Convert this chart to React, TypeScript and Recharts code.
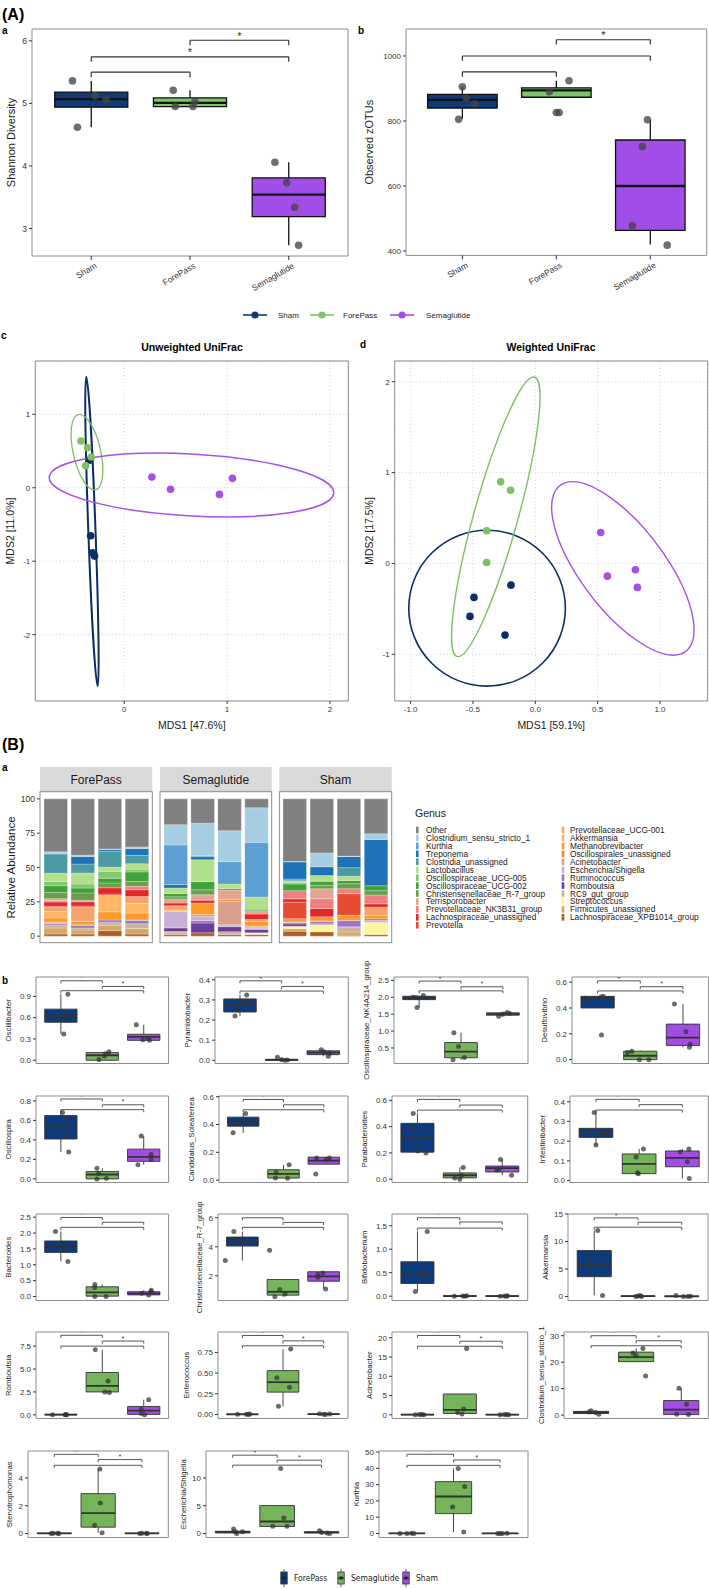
import React from 'react';
import {
  Bar,
  BarChart,
  CartesianGrid,
  ComposedChart,
  ReferenceArea,
  ReferenceLine,
  Scatter,
  XAxis,
  YAxis,
} from 'recharts';

const FONT = '"Liberation Sans", Arial, Helvetica, sans-serif';
const NARROW = '"Liberation Sans Narrow", "DejaVu Sans Condensed", "Liberation Sans", sans-serif';
const INK = '#333333';
const BORDER = '#8c8c8c';

// ---------- (A) a, b: alpha diversity ----------
const alphaGroups = ['Sham', 'ForePass', 'Semaglutide'];
const alphaColors = ['#0e3a78', '#7fc46a', '#a14ee8'];

// [lower whisker, q1, median, q3, upper whisker]
const shannonBox = [
  [4.62, 4.94, 5.07, 5.18, 5.36],
  [4.95, 4.95, 5.01, 5.09, 5.21],
  [2.73, 3.19, 3.54, 3.81, 4.06],
];
const shannonPoints = [
  [5.36, 4.62, 5.12, 5.06],
  [5.21, 4.95, 4.95, 5.03],
  [4.06, 3.73, 3.34, 2.73],
];
const shannonJitter = [
  [-0.19, -0.14, 0.04, 0.15],
  [-0.17, -0.15, 0.03, 0.05],
  [-0.14, -0.02, 0.06, 0.1],
];
// [from group, to group, height, significant]
const shannonBrackets = [
  [1, 2, 5.5, 0],
  [1, 3, 5.745, 1],
  [2, 3, 6.01, 1],
];

const zotuBox = [
  [807, 840, 865, 882, 905],
  [873, 873, 894, 902, 924],
  [420, 463.5, 600, 741.5, 804],
];
const zotuPoints = [
  [905, 805, 870, 853],
  [826, 826, 890, 924],
  [804, 721, 478, 418],
];
const zotuJitter = [
  [0, -0.04, 0.04, 0.13],
  [0, 0.03, -0.075, 0.135],
  [-0.03, -0.085, -0.19, 0.18],
];
const zotuBrackets = [
  [1, 2, 951, 0],
  [1, 3, 1000, 0],
  [2, 3, 1050, 1],
];

// ---------- (A) c, d: UniFrac ordination ----------
const ordColors = ['#0b2e66', '#7dbf63', '#a650e8'];
// per group: Sham, ForePass, Semaglutide; [MDS1, MDS2]
const unweightedPts = [
  [[-0.333, 0.377], [-0.326, -0.654], [-0.307, -0.885], [-0.288, -0.93]],
  [[-0.42, 0.636], [-0.355, 0.545], [-0.32, 0.42], [-0.375, 0.3]],
  [[0.269, 0.146], [0.45, -0.02], [0.926, -0.09], [1.052, 0.128]],
];
// [centre x, centre y, semi-major, semi-minor, angle in degrees]
const unweightedEllipses = [
  [-0.3135, -0.595, 2.106, 0.035, 91.5],
  [-0.362, 0.485, 0.52, 0.135, 98.6],
  [0.654, 0.037, 1.387, 0.42, -4.7],
];
const weightedPts = [
  [[-0.492, -0.374], [-0.524, -0.583], [-0.195, -0.239], [-0.243, -0.789]],
  [[-0.278, 0.898], [-0.198, 0.806], [-0.39, 0.359], [-0.39, 0.011]],
  [[0.525, 0.341], [0.578, -0.14], [0.803, -0.07], [0.819, -0.264]],
];
const weightedEllipses = [
  [-0.387, -0.492, 0.628, 0.858, 0],
  [-0.317, 0.513, 1.569, 0.18, 78.7],
  [0.7025, -0.055, 1.05, 0.366, -63.5],
];

// ---------- (B) a: genus composition ----------
const facets = ['ForePass', 'Semaglutide', 'Sham'];
const samples = ['FP1', 'FP2', 'FP3', 'FP4', 'SE1', 'SE2', 'SE3', 'SE4', 'SH1', 'SH2', 'SH3', 'SH4'];
const genusNames = [
  'Other', 'Clostridium_sensu_stricto_1', 'Kurthia', 'Treponema', 'Clostridia_unassigned',
  'Lactobacillus', 'Oscillospiraceae_UCG-005', 'Oscillospiraceae_UCG-002',
  'Christensenellaceae_R-7_group', 'Terrisporobacter', 'Prevotellaceae_NK3B31_group',
  'Lachnospiraceae_unassigned', 'Prevotella', 'Prevotellaceae_UCG-001', 'Akkermansia',
  'Methanobrevibacter', 'Oscillospirales_unassigned', 'Acinetobacter', 'Escherichia/Shigella',
  'Ruminococcus', 'Romboutsia', 'RC9_gut_group', 'Streptococcus', 'Firmicutes_unassigned',
  'Lachnospiraceae_XPB1014_group',
];
const genusColors = [
  '#808080', '#a6cee3', '#5b9fd3', '#1f72b8', '#4c9aa3', '#b2df8a', '#86c76b', '#3fa33a',
  '#6e9b4c', '#e2a592', '#f08080', '#e3262a', '#e84a33', '#f6a26b', '#fdb766', '#fd9a2c',
  '#ef8a2c', '#dba08c', '#c9b1d6', '#9c76c2', '#6a3d9a', '#c9b39f', '#fff59b', '#d7a865',
  '#b15928',
];
// relative abundance (%) per genus, samples in the order above
const abundance = [
  [38.6, 41, 36.5, 35, 18.8, 17.7, 23.2, 6.45, 45.65, 39.4, 41.7, 25.5],
  [1.6, 1.0, 0.3, 1.2, 14.8, 23.5, 22.5, 25.2, 0.3, 10.1, 0.2, 4.1],
  [0, 0, 0, 0, 28.8, 0.9, 16.3, 39.8, 0, 0, 0, 0],
  [0, 5.5, 1.5, 5, 2.5, 2.2, 0, 0, 12.5, 6.3, 8.2, 33.7],
  [14, 6.5, 11.5, 6, 0, 0, 0, 0, 1.2, 0, 6.3, 0],
  [6, 8, 3, 4, 4, 16, 3.4, 9, 1.2, 4.3, 3.1, 0],
  [3, 3, 5, 2, 0, 0, 0, 0, 1.2, 0, 0, 0],
  [5, 3.5, 3.5, 7, 2.5, 6, 1, 1, 4.8, 3, 2.4, 3.6],
  [4.5, 5.5, 3.5, 3.5, 1.5, 3.5, 0, 0, 0, 2.4, 3.6, 3.1],
  [1.5, 0, 0, 0, 3, 4, 7, 2.5, 0, 7.2, 0, 0],
  [1, 1, 0, 2.5, 0, 0, 0, 0, 6, 7.2, 3.6, 6.5],
  [3, 3, 4.5, 5, 2, 2, 0, 4, 2.4, 6, 0, 2.4],
  [1, 0.7, 1, 0, 0, 0, 0, 0, 12, 0, 15.7, 0],
  [2.7, 10.3, 0, 5.1, 3, 0, 0, 1.2, 0, 0, 0, 6],
  [4.8, 0.2, 12, 6.9, 0, 0, 0, 0, 0, 0, 0, 0],
  [3, 2.5, 6, 5, 0.7, 8.5, 0, 3.6, 2.4, 3.1, 3.6, 2.4],
  [0.5, 0, 0, 0, 0, 0, 1.2, 0, 0, 0, 0, 0],
  [0, 0, 0, 0, 0.2, 1.5, 17.2, 0.6, 0, 0, 0, 0],
  [0.8, 0.3, 0, 0.3, 11.8, 2.8, 1.3, 1.3, 0.5, 0.2, 0.1, 0],
  [1, 2, 1.7, 2.5, 0.5, 1.9, 0, 0.5, 1, 1.8, 4.65, 1.4],
  [0, 0, 0, 0, 2.5, 7.1, 3.7, 2.45, 1.65, 0.6, 0.15, 0],
  [2, 1.5, 2, 3.5, 1, 0, 2, 0, 0, 0, 3.6, 1.4],
  [0, 0, 0, 0, 0, 0, 0, 1.2, 1.8, 5.3, 0, 8.7],
  [4.5, 3, 4, 4, 1.2, 0, 0, 0, 1.8, 0, 2.4, 0],
  [1.5, 1.5, 4, 1.5, 1.2, 2.4, 1.2, 1.2, 3.6, 3.1, 0.7, 1.2],
];

// ---------- (B) b: differentially abundant genera ----------
const genusGroups = ['ForePass', 'Semaglutide', 'Sham'];
const genusGroupColors = ['#0d3a7c', '#75b45a', '#a34de6'];

const genusPanels = [
  { genus: 'Oscillibacter', domain: [-0.046, 1.173], ticks: [0, 0.3, 0.6, 0.9], digits: 1,
    box: [[0.37, 0.535, 0.62, 0.72, 0.93], [0, 0, 0.07, 0.108, 0.12], [0.28, 0.28, 0.33, 0.366, 0.5]],
    pts: [[0.93, 0.64, 0.6, 0.37], [0.01, 0.06, 0.09, 0.12], [0.5, 0.29, 0.28, 0.31]],
    jit: [[0.17, 0.1, 0.05, 0.07], [-0.08, 0.05, 0.08, 0.16], [-0.18, -0.02, 0.14, 0.1]],
    brk: [1.12, 1.04, 0.98], star: [1, 1] },
  { genus: 'Pyramidobacter', domain: [-0.016, 0.414], ticks: [0, 0.1, 0.2, 0.3, 0.4], digits: 1,
    box: [[0.22, 0.24, 0.275, 0.305, 0.325], [0, 0, 0.002, 0.005, 0.015], [0.02, 0.028, 0.038, 0.047, 0.052]],
    pts: [[0.325, 0.295, 0.25, 0.22], [0.015, 0.003, 0, 0.001], [0.052, 0.042, 0.02, 0.035]],
    jit: [[0.16, 0.12, -0.05, -0.12], [-0.1, 0, 0.08, 0.14], [-0.05, 0.02, 0.12, 0.15]],
    brk: [0.395, 0.367, 0.344], star: [1, 1] },
  { genus: 'Oscillospiraceae_NK4A214_group', domain: [0.04, 2.6], ticks: [0.5, 1, 1.5, 2, 2.5], digits: 1,
    box: [[1.7, 1.93, 1.98, 2.03, 2.05], [0.15, 0.21, 0.39, 0.66, 0.95], [1.44, 1.47, 1.5, 1.54, 1.57]],
    pts: [[2.0, 1.99, 2.05, 1.7], [0.95, 0.54, 0.15, 0.22], [1.44, 1.5, 1.55, 1.52]],
    jit: [[-0.15, -0.08, 0.1, -0.05], [-0.17, -0.06, -0.19, 0.08], [-0.1, 0, 0.1, 0.16]],
    brk: [2.48, 2.31, 2.19], star: [1, 1] },
  { genus: 'Desulfovibrio', domain: [-0.03, 0.64], ticks: [0, 0.2, 0.4, 0.6], digits: 1,
    box: [[0.4, 0.4, 0.48, 0.49, 0.49], [0, 0, 0.03, 0.065, 0.07], [0.095, 0.11, 0.17, 0.275, 0.43]],
    pts: [[0.475, 0.485, 0.49, 0.19], [0.055, 0.065, 0, 0], [0.43, 0.215, 0.12, 0.095]],
    jit: [[-0.3, 0.08, 0.13, 0.09], [-0.3, -0.2, -0.02, 0.2], [-0.2, 0.07, 0.17, 0.15]],
    brk: [0.61, 0.565, 0.532], star: [1, 1] },
  { genus: 'Oscillospira', domain: [-0.037, 0.85], ticks: [0, 0.2, 0.4, 0.6, 0.8], digits: 1,
    box: [[0.275, 0.409, 0.543, 0.649, 0.69], [0, 0, 0.045, 0.075, 0.11], [0.145, 0.18, 0.225, 0.305, 0.44]],
    pts: [[0.68, 0.625, 0.44, 0.275], [0.11, 0.055, 0, 0.003], [0.44, 0.145, 0.25, 0.2]],
    jit: [[0.04, 0.17, 0.12, 0.19], [-0.13, -0.09, -0.13, 0.1], [-0.06, -0.14, 0.18, 0.18]],
    brk: [0.82, 0.76, 0.71], star: [1, 1] },
  { genus: 'Candidatus_Soleaferrea', domain: [-0.017, 0.605], ticks: [0, 0.2, 0.4, 0.6], digits: 1,
    box: [[0.34, 0.388, 0.42, 0.453, 0.48], [0.013, 0.015, 0.045, 0.075, 0.11], [0.115, 0.115, 0.14, 0.165, 0.165]],
    pts: [[0.48, 0.435, 0.405, 0.34], [0.11, 0.055, 0.015, 0.013], [0.16, 0.15, 0.16, 0.045]],
    jit: [[0.06, 0.06, -0.15, -0.25], [0.14, -0.18, -0.2, 0.1], [-0.18, 0.06, 0.14, -0.2]],
    brk: [0.58, 0.542, 0.506], star: [1, 0] },
  { genus: 'Parabacteroides', domain: [-0.025, 0.633], ticks: [0, 0.2, 0.4, 0.6], digits: 1,
    box: [[0.2, 0.206, 0.311, 0.425, 0.5], [0, 0.01, 0.03, 0.048, 0.09], [0.03, 0.055, 0.085, 0.1, 0.15]],
    pts: [[0.5, 0.39, 0.215, 0.2], [0.09, 0.03, 0.01, 0], [0.15, 0.07, 0.072, 0.03]],
    jit: [[-0.1, -0.12, 0.01, 0.2], [0.08, 0.04, -0.12, 0], [-0.04, -0.13, -0.08, 0.22]],
    brk: [0.607, 0.564, 0.526], star: [1, 0] },
  { genus: 'Intestinibacter', domain: [-0.01, 0.429], ticks: [0, 0.1, 0.2, 0.3, 0.4], digits: 1,
    box: [[0.18, 0.219, 0.245, 0.265, 0.345], [0.035, 0.035, 0.085, 0.135, 0.16], [0.01, 0.07, 0.115, 0.15, 0.16]],
    pts: [[0.345, 0.235, 0.24, 0.18], [0.16, 0.12, 0.04, 0.035], [0.16, 0.145, 0.095, 0.01]],
    jit: [[-0.04, 0.2, 0.23, 0], [0.1, -0.07, -0.04, -0.02], [0.15, -0.05, 0.12, 0.16]],
    brk: [0.412, 0.385, 0.358], star: [1, 0] },
  { genus: 'Bacteroides', domain: [-0.127, 2.6], ticks: [0, 0.5, 1, 1.5, 2, 2.5], digits: 1,
    box: [[1.1, 1.39, 1.56, 1.75, 2.05], [0, 0.01, 0.127, 0.305, 0.38], [0.05, 0.05, 0.09, 0.15, 0.2]],
    pts: [[2.05, 1.6, 1.5, 1.1], [0.38, 0.28, 0, 0], [0.2, 0.15, 0.05, 0.1]],
    jit: [[-0.13, 0, 0.07, 0.17], [-0.18, -0.18, -0.18, 0.09], [0.18, 0.18, 0.12, -0.05]],
    brk: [2.49, 2.34, 2.18], star: [1, 0] },
  { genus: 'Christensenellaceae_R-7_group', domain: [0.3, 6.26], ticks: [2, 4, 6], digits: 0,
    box: [[3.06, 4.05, 4.35, 4.67, 5.05], [0.55, 0.67, 0.9, 1.75, 1.75], [1.1, 1.63, 1.96, 2.28, 2.28]],
    pts: [[5.05, 4.5, 4.4, 3.06], [3.77, 1.06, 0.55, 0.74], [2.2, 2.1, 1.9, 1.1]],
    jit: [[-0.21, -0.17, -0.03, -0.42], [-0.33, -0.08, -0.2, 0.05], [-0.02, -0.14, -0.14, 0.05]],
    brk: [6.0, 5.68, 5.34], star: [0, 0] },
  { genus: 'Bifidobacterium', domain: [-0.092, 1.75], ticks: [0, 0.5, 1, 1.5], digits: 1,
    box: [[0.1, 0.27, 0.45, 0.733, 1.38], [0, 0, 0.003, 0.008, 0.01], [0, 0, 0.002, 0.006, 0.01]],
    pts: [[1.38, 0.5, 0.35, 0.1], [0, 0.005, 0, 0.01], [0, 0.003, 0, 0.008]],
    jit: [[0.23, 0.09, 0.2, -0.05], [-0.13, 0.07, 0.12, 0.16], [-0.05, 0.05, 0.1, 0.12]],
    brk: [1.67, 1.58, 1.45], star: [1, 0] },
  { genus: 'Akkermansia', domain: [-0.73, 15], ticks: [0, 5, 10, 15], digits: 0,
    box: [[0.2, 3.6, 5.86, 8.35, 12], [0, 0, 0.05, 0.1, 0.2], [0, 0, 0.03, 0.1, 0.2]],
    pts: [[12, 6.9, 4.8, 0.2], [0, 0.1, 0.2, 0], [0.2, 0, 0, 0.05]],
    jit: [[0.08, -0.09, -0.1, 0.19], [-0.05, 0, 0.05, 0.08], [-0.13, 0.04, 0.14, 0.2]],
    brk: [14.3, 13.5, 12.6], star: [1, 0] },
  { genus: 'Romboutsia', domain: [-0.4, 9.04], ticks: [0, 2.5, 5, 7.5], digits: 1,
    box: [[0, 0, 0.02, 0.05, 0.05], [2.45, 2.5, 3.15, 4.62, 7.1], [0, 0.05, 0.45, 0.91, 1.65]],
    pts: [[0, 0.02, 0.05, 0], [7.1, 3.7, 2.5, 2.45], [1.65, 0.6, 0.15, 0]],
    jit: [[-0.2, 0.1, 0.12, 0.14], [-0.17, 0.14, 0.06, 0.17], [0.12, -0.06, -0.06, 0.02]],
    brk: [8.68, 8.05, 7.5], star: [1, 1] },
  { genus: 'Enterococcus', domain: [-0.049, 0.997], ticks: [0, 0.25, 0.5, 0.75], digits: 2,
    box: [[0, 0, 0.002, 0.005, 0.005], [0.1, 0.27, 0.39, 0.53, 0.79], [0, 0, 0.003, 0.006, 0.008]],
    pts: [[0.003, 0.002, 0, 0.004], [0.79, 0.445, 0.33, 0.1], [0.007, 0.003, 0, 0.005]],
    jit: [[-0.12, 0.1, 0.15, 0.18], [0.19, -0.15, 0.16, -0.11], [-0.1, 0, 0.05, 0.15]],
    brk: [0.955, 0.89, 0.83], star: [1, 1] },
  { genus: 'Acinetobacter', domain: [-0.96, 21.5], ticks: [0, 5, 10, 15, 20], digits: 0,
    box: [[0, 0, 0.05, 0.1, 0.1], [0.2, 0.34, 1.3, 5.4, 5.4], [0, 0, 0.03, 0.08, 0.1]],
    pts: [[0, 0.05, 0.1, 0], [17.2, 1.5, 0.6, 0.2], [0, 0.05, 0.1, 0]],
    jit: [[-0.05, 0.05, 0.1, 0.15], [0.16, 0.09, -0.05, 0.05], [-0.05, 0.05, 0.1, 0.15]],
    brk: [20.6, 19.1, 17.8], star: [1, 1] },
  { genus: 'Clostridium_sensu_stricto_1', domain: [-1.29, 31.4], ticks: [0, 10, 20, 30], digits: 0,
    box: [[0.3, 0.6, 1.0, 1.4, 1.6], [20.2, 20.2, 21.9, 23.8, 25.2], [0.2, 0.2, 2.1, 5.5, 10.1]],
    pts: [[1.6, 1.0, 0.3, 1.2], [25.2, 23.5, 22.5, 14.8], [10.1, 4.1, 0.3, 0.2]],
    jit: [[0, 0.1, 0.17, -0.05], [0.15, -0.07, 0, 0.21], [-0.05, 0.12, -0.1, 0.16]],
    brk: [30.0, 28.1, 26.2], star: [1, 1] },
  { genus: 'Stenotrophomonas', domain: [-0.29, 5.94], ticks: [0, 2, 4], digits: 0,
    box: [[0, 0, 0.01, 0.02, 0.02], [0.05, 0.455, 1.46, 2.87, 4.65], [0, 0, 0.01, 0.02, 0.02]],
    pts: [[0, 0.01, 0, 0.02], [4.65, 2.2, 0.6, 0.05], [0, 0.01, 0, 0.02]],
    jit: [[-0.07, 0.08, 0.1, -0.02], [0.04, 0.05, -0.08, 0.09], [-0.05, 0.1, 0.12, 0]],
    brk: [5.7, 5.32, 4.91], star: [1, 1] },
  { genus: 'Escherichia/Shigella', domain: [-0.72, 14.85], ticks: [0, 5, 10], digits: 0,
    box: [[0, 0.1, 0.25, 0.4, 0.8], [1.26, 1.26, 2.16, 5.03, 5.03], [0, 0.1, 0.2, 0.3, 0.5]],
    pts: [[0.8, 0.3, 0, 0.3], [11.7, 2.8, 1.3, 1.3], [0.5, 0.2, 0.1, 0]],
    jit: [[0.02, 0.07, 0.09, 0.22], [0.08, 0.15, -0.1, 0.22], [-0.05, 0, 0.12, 0.18]],
    brk: [14.1, 13.2, 12.3], star: [1, 1] },
  { genus: 'Kurthia', domain: [-2.45, 50.6], ticks: [0, 10, 20, 30, 40, 50], digits: 0,
    box: [[0, 0, 0.05, 0.1, 0.1], [0.9, 12.2, 22.7, 31.8, 39.8], [0, 0, 0.05, 0.1, 0.1]],
    pts: [[0, 0.05, 0.1, 0], [39.8, 28.8, 16.3, 0.9], [0, 0.05, 0.1, 0]],
    jit: [[-0.15, 0, 0.1, 0.15], [0.1, 0.24, -0.02, 0.22], [-0.05, 0, 0.15, 0.05]],
    brk: [48.6, 45.1, 41.8], star: [1, 1] },
];

// grid placement of the small genus panels
const genusRowTop = [977.3, 1096, 1214, 1331.7, 1450.5];
const genusColRight = [168.3, 348.3, 528, 708.3];
const genusPlotLeft = [
  35.7, 215, 394, 571.7,
  35.7, 219.3, 392.3, 570,
  35.7, 218.3, 392.3, 568.3,
  35.7, 218.3, 392.3, 564,
  28, 206, 379,
];

// ---------- shared pieces ----------
const yTitle = (text: string, size: number, gap: number) => (lp: any) => {
  const vb = lp.viewBox;
  const cx = vb.x + vb.width - gap;
  const cy = vb.y + vb.height / 2;
  return (
    <text x={cx} y={cy} transform={`rotate(-90 ${cx} ${cy})`} textAnchor="middle"
      dominantBaseline="central" fontSize={size} fill="#1a1a1a" fontFamily={FONT}>
      {text}
    </text>
  );
};

const xTitle = (text: string, size: number, dy: number) => (lp: any) => {
  const vb = lp.viewBox;
  return (
    <text x={vb.x + vb.width / 2} y={vb.y + dy} textAnchor="middle" fontSize={size}
      fill="#1a1a1a" fontFamily={FONT}>
      {text}
    </text>
  );
};

const slantTick = (labels: string[], size: number) => (tp: any) => {
  const x = tp.x + 3;
  const y = tp.y;
  return (
    <text x={x} y={y} transform={`rotate(-30 ${x} ${y})`} textAnchor="end"
      dominantBaseline="hanging" fontSize={size} fill={INK} fontFamily={FONT}>
      {labels[Math.round(tp.payload.value) - 1]}
    </text>
  );
};

function BoxPanel(p: any) {
  const width = p.axisW + p.plotW + 2;
  const height = p.pad * 2 + p.plotH + p.axisH;
  const pts = p.points.flatMap((g: number[], i: number) =>
    g.map((v: number, j: number) => ({ x: i + 1 + p.jitter[i][j], y: v })));
  const stars = p.brackets
    .filter((b: number[]) => b[3])
    .map((b: number[]) => ({ x: (b[0] + b[1]) / 2, y: b[2] }));
  const lineProps = { stroke: p.line, ifOverflow: 'visible' as const };
  return (
    <div style={{ position: 'absolute', left: p.left - p.axisW, top: p.top - p.pad }}>
      <ComposedChart width={width} height={height}
        margin={{ top: p.pad, right: 2, bottom: p.pad, left: 0 }}>
        <XAxis type="number" dataKey="x" domain={[0.4, 3.6]} ticks={[1, 2, 3]} allowDataOverflow
          hide={!p.xLabels} height={p.axisH} tickSize={4} axisLine={false}
          tickLine={{ stroke: INK }}
          tick={p.xLabels ? slantTick(p.xLabels, p.xLabelSize) : false} />
        <YAxis type="number" dataKey="y" domain={p.domain} ticks={p.ticks} allowDataOverflow
          width={p.axisW} tickSize={3} tickMargin={2} axisLine={false} tickLine={{ stroke: INK }}
          tickFormatter={(v: number) => v.toFixed(p.digits)}
          tick={{ fontSize: p.tickSize, fill: INK, fontFamily: FONT }}
          label={yTitle(p.title, p.titleSize, p.titleGap)} />
        <ReferenceArea x1={0.4} x2={3.6} y1={p.domain[0]} y2={p.domain[1]} fill="none"
          fillOpacity={0} stroke={BORDER} strokeWidth={1} ifOverflow="visible" />
        {p.box.map((b: number[], i: number) => (
          <ReferenceLine key={`wu${i}`} segment={[{ x: i + 1, y: b[3] }, { x: i + 1, y: b[4] }]}
            strokeWidth={p.lineW} {...lineProps} />
        ))}
        {p.box.map((b: number[], i: number) => (
          <ReferenceLine key={`wl${i}`} segment={[{ x: i + 1, y: b[0] }, { x: i + 1, y: b[1] }]}
            strokeWidth={p.lineW} {...lineProps} />
        ))}
        {p.box.map((b: number[], i: number) => (
          <ReferenceArea key={`bx${i}`} x1={i + 1 - p.half} x2={i + 1 + p.half} y1={b[1]} y2={b[3]}
            fill={p.colors[i]} fillOpacity={1} stroke={p.line} strokeWidth={p.lineW}
            ifOverflow="visible" />
        ))}
        {p.box.map((b: number[], i: number) => (
          <ReferenceLine key={`md${i}`}
            segment={[{ x: i + 1 - p.half, y: b[2] }, { x: i + 1 + p.half, y: b[2] }]}
            strokeWidth={p.medianW} {...lineProps} />
        ))}
        {p.brackets.map((b: number[], i: number) => (
          <ReferenceLine key={`bk${i}`} segment={[{ x: b[0], y: b[2] }, { x: b[1], y: b[2] }]}
            stroke={p.bracketColor} strokeWidth={p.bracketW} ifOverflow="visible" />
        ))}
        {p.brackets.map((b: number[], i: number) => (
          <ReferenceLine key={`tl${i}`} segment={[{ x: b[0], y: b[2] }, { x: b[0], y: b[2] - p.tip }]}
            stroke={p.bracketColor} strokeWidth={p.bracketW} ifOverflow="visible" />
        ))}
        {p.brackets.map((b: number[], i: number) => (
          <ReferenceLine key={`tr${i}`} segment={[{ x: b[1], y: b[2] }, { x: b[1], y: b[2] - p.tip }]}
            stroke={p.bracketColor} strokeWidth={p.bracketW} ifOverflow="visible" />
        ))}
        <Scatter data={pts} isAnimationActive={false}
          shape={(s: any) => (
            <circle cx={s.cx} cy={s.cy} r={p.r} fill={p.ptFill} fillOpacity={p.ptOpacity} />
          )} />
        <Scatter data={stars} isAnimationActive={false}
          shape={(s: any) => (
            <text x={s.cx} y={s.cy - p.starLift} textAnchor="middle" fontSize={p.starSize}
              fill={p.bracketColor} fontFamily={FONT}>*</text>
          )} />
      </ComposedChart>
    </div>
  );
}

// ellipse drawn in data space: a tiny reference rectangle around the centre gives
// the pixel scale of both axes, which maps the unit circle onto the data ellipse
const HALF = 0.1;
const ellipseShape = (e: number[], color: string, w: number) => (rp: any) => {
  const t = (e[4] * Math.PI) / 180;
  const sx = rp.width / (2 * HALF);
  const sy = rp.height / (2 * HALF);
  const m = [
    sx * e[2] * Math.cos(t),
    -sy * e[2] * Math.sin(t),
    -sx * e[3] * Math.sin(t),
    -sy * e[3] * Math.cos(t),
    rp.x + rp.width / 2,
    rp.y + rp.height / 2,
  ];
  return (
    <ellipse cx={0} cy={0} rx={1} ry={1} transform={`matrix(${m.join(' ')})`} fill="none"
      stroke={color} strokeWidth={w} vectorEffect="non-scaling-stroke" />
  );
};

function OrdPanel(p: any) {
  const width = p.axisW + p.plotW + 2;
  const height = 6 + p.plotH + 34;
  return (
    <div style={{ position: 'absolute', left: p.left - p.axisW, top: p.top - 6 }}>
      <ComposedChart width={width} height={height} margin={{ top: 6, right: 2, bottom: 0, left: 0 }}>
        <CartesianGrid stroke="#c4c4c4" strokeDasharray="1 2.5" strokeWidth={0.8} />
        <XAxis type="number" dataKey="x" domain={p.xDomain} ticks={p.xTicks} allowDataOverflow
          height={34} tickSize={3} tickMargin={2} axisLine={false} tickLine={{ stroke: INK }}
          tickFormatter={(v: number) => v.toFixed(p.xDigits)}
          tick={{ fontSize: 8, fill: INK, fontFamily: FONT }}
          label={xTitle(p.xTitle, 10.5, 28)} />
        <YAxis type="number" dataKey="y" domain={p.yDomain} ticks={p.yTicks} allowDataOverflow
          width={p.axisW} tickSize={3} tickMargin={2} axisLine={false} tickLine={{ stroke: INK }}
          tickFormatter={(v: number) => v.toFixed(0)}
          tick={{ fontSize: 8, fill: INK, fontFamily: FONT }}
          label={yTitle(p.yTitle, 10.5, 25)} />
        <ReferenceArea x1={p.xDomain[0]} x2={p.xDomain[1]} y1={p.yDomain[0]} y2={p.yDomain[1]}
          fill="none" fillOpacity={0} stroke={BORDER} strokeWidth={1} ifOverflow="visible" />
        {p.ellipses.map((e: number[], i: number) => (
          <ReferenceArea key={`el${i}`} x1={e[0] - HALF} x2={e[0] + HALF} y1={e[1] - HALF}
            y2={e[1] + HALF} ifOverflow="visible"
            shape={ellipseShape(e, ordColors[i], p.ringW[i])} />
        ))}
        {p.points.map((g: number[][], i: number) => (
          <Scatter key={`pt${i}`} data={g.map((q) => ({ x: q[0], y: q[1] }))}
            isAnimationActive={false}
            shape={(s: any) => <circle cx={s.cx} cy={s.cy} r={3.8} fill={ordColors[i]} />} />
        ))}
      </ComposedChart>
    </div>
  );
}

const facetPlot = [
  { left: 40, width: 112.3 },
  { left: 160, width: 111.7 },
  { left: 279.3, width: 112.4 },
];
const FACET_TOP = 791.7;
const FACET_H = 151;

function AbundanceFacet({ f }: { f: number }) {
  const rows = samples.slice(f * 4, f * 4 + 4).map((s, i) => {
    const row: any = { sample: s };
    abundance.forEach((vals, k) => { row[`g${k}`] = vals[f * 4 + i]; });
    return row;
  });
  const axisW = f === 0 ? 40 : 0;
  const order = genusNames.map((_, k) => k).reverse();
  return (
    <div style={{ position: 'absolute', left: facetPlot[f].left - axisW, top: FACET_TOP }}>
      <BarChart width={facetPlot[f].width + axisW} height={FACET_H} data={rows}
        margin={{ top: 0, right: 0, bottom: 0, left: 0 }} barSize={23.5}>
        <XAxis dataKey="sample" hide padding={{ left: 2, right: 2 }} />
        <YAxis hide={f !== 0} width={axisW} domain={[-5, 105]} ticks={[0, 25, 50, 75, 100]}
          allowDataOverflow axisLine={false} tickSize={3} tickMargin={2}
          tickLine={{ stroke: INK }} tick={{ fontSize: 8.5, fill: INK, fontFamily: FONT }}
          label={yTitle('Relative Abundance', 11.5, 29)} />
        {order.map((k) => (
          <Bar key={k} dataKey={`g${k}`} stackId="s" fill={genusColors[k]} stroke="#ffffff"
            strokeWidth={0.25} isAnimationActive={false} />
        ))}
      </BarChart>
    </div>
  );
}

function Overlay() {
  const legendTop = 830;
  const step = 7.94;
  const col1 = genusNames.slice(0, 13);
  const col2 = genusNames.slice(13);
  const topLegend = [
    { x: 243, tx: 278 },
    { x: 310, tx: 343 },
    { x: 390, tx: 426 },
  ];
  const bottomLegend = [
    { x: 284, tx: 294 },
    { x: 341, tx: 351 },
    { x: 406, tx: 416 },
  ];
  return (
    <svg width={709} height={1589}
      style={{ position: 'absolute', left: 0, top: 0, pointerEvents: 'none' }}
      fontFamily={FONT}>
      <text x={2} y={20} fontSize={16} fontWeight="bold">(A)</text>
      <text x={2} y={34} fontSize={10} fontWeight="bold">a</text>
      <text x={358} y={34} fontSize={10} fontWeight="bold">b</text>
      <text x={1} y={339} fontSize={10} fontWeight="bold">c</text>
      <text x={360} y={348} fontSize={10} fontWeight="bold">d</text>
      <text x={192} y={351} fontSize={10.5} fontWeight="bold" textAnchor="middle">Unweighted UniFrac</text>
      <text x={551} y={351} fontSize={10.5} fontWeight="bold" textAnchor="middle">Weighted UniFrac</text>
      <text x={2} y={750} fontSize={16} fontWeight="bold">(B)</text>
      <text x={2} y={771} fontSize={10} fontWeight="bold">a</text>
      <text x={2} y={984} fontSize={10} fontWeight="bold">b</text>

      {topLegend.map((it, i) => (
        <g key={`tl${i}`}>
          <line x1={it.x} x2={it.x + 24} y1={315} y2={315} stroke={alphaColors[i]} strokeWidth={1.6} />
          <circle cx={it.x + 12} cy={315} r={3.6} fill={alphaColors[i]} />
          <text x={it.tx} y={315} fontSize={8} dominantBaseline="central" fill="#1a1a1a">
            {alphaGroups[i]}
          </text>
        </g>
      ))}

      {facets.map((name, f) => (
        <g key={`st${f}`}>
          <rect x={facetPlot[f].left} y={767} width={facetPlot[f].width} height={24.7} fill="#d9d9d9" />
          <text x={facetPlot[f].left + facetPlot[f].width / 2} y={779.5} fontSize={12}
            textAnchor="middle" dominantBaseline="central" fill="#1a1a1a">{name}</text>
          <rect x={facetPlot[f].left} y={FACET_TOP} width={facetPlot[f].width} height={FACET_H}
            fill="none" stroke={BORDER} strokeWidth={1} />
        </g>
      ))}

      <text x={415} y={817} fontSize={10.5} fill="#1a1a1a">Genus</text>
      {col1.map((g, i) => (
        <g key={`c1${i}`}>
          <rect x={416} y={legendTop + i * step - 3.3} width={2.6} height={6.6} fill={genusColors[i]} />
          <text x={426} y={legendTop + i * step} fontSize={8.3} dominantBaseline="central" fill="#1a1a1a">{g}</text>
        </g>
      ))}
      {col2.map((g, i) => (
        <g key={`c2${i}`}>
          <rect x={561.7} y={legendTop + i * step - 3.3} width={2.6} height={6.6} fill={genusColors[13 + i]} />
          <text x={570} y={legendTop + i * step} fontSize={8.3} dominantBaseline="central" fill="#1a1a1a">{g}</text>
        </g>
      ))}

      {bottomLegend.map((it, i) => (
        <g key={`bl${i}`}>
          <line x1={it.x} x2={it.x} y1={1569} y2={1587} stroke={INK} strokeWidth={0.8} />
          <rect x={it.x - 3.2} y={1572} width={6.4} height={12} fill={genusGroupColors[i]} stroke={INK} strokeWidth={0.8} />
          <line x1={it.x - 3.2} x2={it.x + 3.2} y1={1578} y2={1578} stroke={INK} strokeWidth={1.2} />
          <circle cx={it.x} cy={1578} r={1.8} fill="#222" />
          <text x={it.tx} y={1578} fontSize={8.5} fontFamily={NARROW} dominantBaseline="central" fill="#1a1a1a">
            {genusGroups[i]}
          </text>
        </g>
      ))}
    </svg>
  );
}

export default function App() {
  return (
    <div style={{ position: 'absolute', left: 0, top: 0, width: 709, height: 1589, background: '#fff', fontFamily: FONT }}>
      <style>{'.recharts-surface{overflow:visible}'}</style>

      <BoxPanel left={32} top={29} plotW={316} plotH={227} axisW={32} axisH={44} pad={4}
        domain={[2.56, 6.19]} ticks={[3, 4, 5, 6]} digits={0} tickSize={8.5}
        title="Shannon Diversity" titleSize={11} titleGap={21}
        box={shannonBox} points={shannonPoints} jitter={shannonJitter} colors={alphaColors}
        brackets={shannonBrackets} tip={0.08} starSize={11} starLift={0.5}
        half={0.37} r={3.8} ptFill="#454545" ptOpacity={0.78} line="#111" lineW={1.3} medianW={2.3}
        bracketColor="#333" bracketW={1.2} xLabels={alphaGroups} xLabelSize={8.5} />
      <BoxPanel left={406} top={29.3} plotW={300.7} plotH={226.4} axisW={51} axisH={44} pad={4}
        domain={[386.5, 1083]} ticks={[400, 600, 800, 1000]} digits={0} tickSize={8}
        title="Observed zOTUs" titleSize={11} titleGap={37}
        box={zotuBox} points={zotuPoints} jitter={zotuJitter} colors={alphaColors}
        brackets={zotuBrackets} tip={15} starSize={11} starLift={0.5}
        half={0.37} r={3.8} ptFill="#454545" ptOpacity={0.78} line="#111" lineW={1.3} medianW={2.3}
        bracketColor="#333" bracketW={1.2} xLabels={alphaGroups} xLabelSize={8.5} />

      <OrdPanel left={35.3} top={361} plotW={313} plotH={340} axisW={35.3}
        xDomain={[-0.864, 2.178]} yDomain={[-2.903, 1.726]} xTicks={[0, 1, 2]} yTicks={[-2, -1, 0, 1]}
        xDigits={0} xTitle="MDS1 [47.6%]" yTitle="MDS2 [11.0%]"
        points={unweightedPts} ellipses={unweightedEllipses} ringW={[2, 1.3, 1.5]} />
      <OrdPanel left={394.7} top={361} plotW={313} plotH={340} axisW={39.7}
        xDomain={[-1.128, 1.383]} yDomain={[-1.514, 2.228]} xTicks={[-1, -0.5, 0, 0.5, 1]}
        yTicks={[-1, 0, 1, 2]} xDigits={1} xTitle="MDS1 [59.1%]" yTitle="MDS2 [17.5%]"
        points={weightedPts} ellipses={weightedEllipses} ringW={[1.6, 1.4, 1.4]} />

      {facets.map((_, f) => <AbundanceFacet key={f} f={f} />)}

      {genusPanels.map((g, i) => {
        const row = Math.floor(i / 4);
        const col = i % 4;
        const left = genusPlotLeft[i];
        const chars = Math.max(...g.ticks.map((t) => t.toFixed(g.digits).length));
        return (
          <BoxPanel key={g.genus} left={left} top={genusRowTop[row]}
            plotW={genusColRight[col] - left} plotH={86.5} axisW={36} axisH={0} pad={5}
            domain={g.domain} ticks={g.ticks} digits={g.digits} tickSize={8}
            title={g.genus} titleSize={7.8} titleGap={14 + 4.45 * chars}
            box={g.box} points={g.pts} jitter={g.jit} colors={genusGroupColors}
            brackets={[[1, 2, g.brk[0], g.star[0]], [2, 3, g.brk[1], g.star[1]], [1, 3, g.brk[2], 0]]}
            tip={(g.domain[1] - g.domain[0]) * 0.03} starSize={7.5} starLift={0.3}
            half={0.39} r={2.5} ptFill="#333" ptOpacity={0.72} line="#333" lineW={0.9} medianW={1.8}
            bracketColor="#444" bracketW={0.9} />
        );
      })}

      <Overlay />
    </div>
  );
}
